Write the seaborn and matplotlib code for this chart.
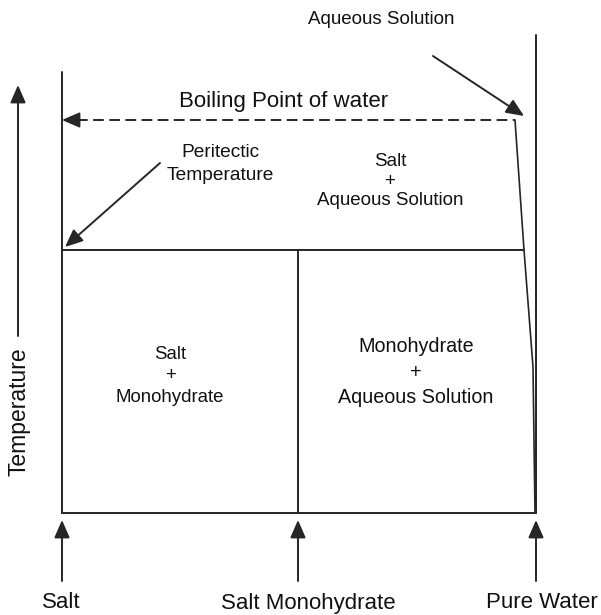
import numpy as np
import pandas as pd
import seaborn as sns
import matplotlib
matplotlib.use('Agg')
import matplotlib.pyplot as plt

sns.set_style('white')
plt.rcParams['font.family'] = ['Liberation Sans', 'DejaVu Sans']

# diagram geometry (pixel-like units, y grows downward)
comp_x = [62, 298, 536]                 # salt, monohydrate, pure water
comp_labels = ['Salt', 'Salt Monohydrate', 'Pure Water']
comp_label_x = [61, 308, 542]
base_y = 513
peritectic_y = 250
boiling_y = 120
left_top = 72
right_top = 35

# solubility curve of the aqueous solution
curve_x = [515, 524, 533, 535]
curve_y = [120, 250, 367, 513]

# region labels
region_text = ['Salt\n+\nAqueous Solution', 'Salt\n+\nMonohydrate', 'Monohydrate\n+\nAqueous Solution']
region_x = [390, 170, 416]
region_y = [181, 376, 372]
region_size = [13.5, 13.4, 14.2]
region_spacing = [1.18, 1.32, 1.45]

LC = '#262626'
lw = 1.4
head = '-|>,head_length=1.08,head_width=0.47'

fig = plt.figure(figsize=(6.01, 6.15), dpi=100)
ax = fig.add_axes([0, 0, 1, 1])
ax.set_xlim(0, 601)
ax.set_ylim(615, 0)
ax.axis('off')

def seg(xs, ys, **kw):
    df = pd.DataFrame({'x': xs, 'y': ys})
    sns.lineplot(data=df, x='x', y='y', sort=False, estimator=None, ax=ax,
                 color=kw.pop('color', LC), lw=kw.pop('lw', lw), **kw)

# frame of the diagram
seg([comp_x[0], comp_x[0]], [left_top, base_y])
seg([comp_x[2], comp_x[2]], [right_top, base_y])
seg([comp_x[0], comp_x[2]], [base_y, base_y])
seg([comp_x[1], comp_x[1]], [peritectic_y, base_y])
seg([comp_x[0], np.interp(peritectic_y, curve_y, curve_x)], [peritectic_y, peritectic_y])
seg(curve_x, curve_y, lw=1.2)

# boiling point dashed line
seg([comp_x[0] + 15, curve_x[0]], [boiling_y, boiling_y], linestyle=(0, (5.5, 2.8)))

def arrow(tip, tail):
    ax.annotate('', xy=tip, xytext=tail,
                arrowprops=dict(arrowstyle=head, color=LC, lw=lw,
                                shrinkA=0, shrinkB=0, mutation_scale=10))

arrow((comp_x[0], boiling_y), (comp_x[0] + 18, boiling_y))
arrow((524, 116), (433, 56))
arrow((65, 247), (160, 163))
arrow((18, 85), (18, 336))
for x in comp_x:
    arrow((x, base_y + 7), (x, 581))

# text
tc = '#111111'
for lab, x in zip(comp_labels, comp_label_x):
    ax.text(x, 603, lab, ha='center', va='center', fontsize=16, color=tc)
ax.text(284, 102, 'Boiling Point of water', ha='center', va='center', fontsize=16, color=tc)
ax.text(381, 20, 'Aqueous Solution', ha='center', va='center', fontsize=13.5, color=tc)
ax.text(220, 164, 'Peritectic\nTemperature', ha='center', va='center', fontsize=13.8,
        linespacing=1.48, color=tc)
ax.text(19, 412, 'Temperature', ha='center', va='center', rotation=90, fontsize=16.5, color=tc)
for t, x, y, s, ls in zip(region_text, region_x, region_y, region_size, region_spacing):
    ax.text(x, y, t, ha='center', va='center', fontsize=s, linespacing=ls, color=tc)

fig.savefig('out.png', dpi=100)
